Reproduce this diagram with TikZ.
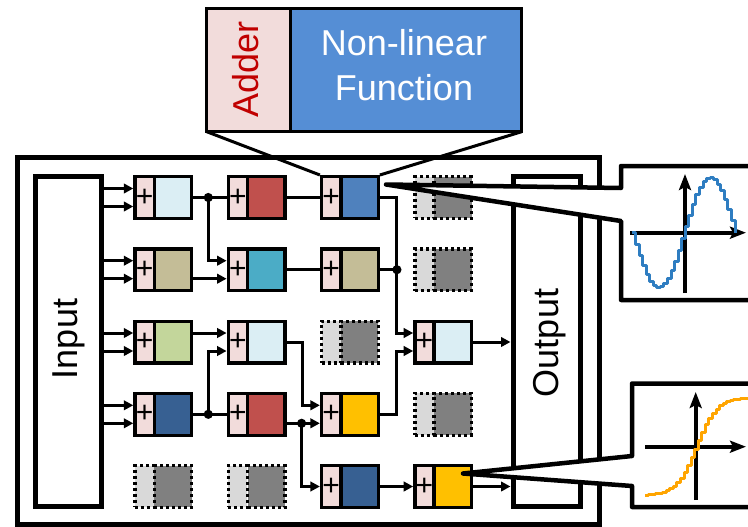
\documentclass[tikz,border=0pt]{standalone}
\usepackage{fontspec}
\setmainfont{Liberation Sans}
\usetikzlibrary{arrows.meta,calc}
\definecolor{addpink}{HTML}{F2DCDB}
\definecolor{ltblue}{HTML}{DBEEF4}
\definecolor{cred}{HTML}{C0504D}
\definecolor{cblue}{HTML}{4F81BD}
\definecolor{ctan}{HTML}{C4BD97}
\definecolor{cteal}{HTML}{4BACC6}
\definecolor{cgreen}{HTML}{C3D69B}
\definecolor{cdblue}{HTML}{376092}
\definecolor{cyellow}{HTML}{FFC000}
\definecolor{idlelight}{HTML}{D9D9D9}
\definecolor{idledark}{HTML}{808080}
\definecolor{topblue}{HTML}{558ED5}
\definecolor{addred}{HTML}{C00000}
\definecolor{sineblue}{HTML}{2E7DC1}
\definecolor{sigorange}{HTML}{FFA500}
\newcommand\mkcell[4]{%
  \node[addbox] (a#1) at (#2-18.75,#3) {+};
  \node[funbox, fill=#4] (f#1) at (#2+9.75,#3) {};}
\newcommand\mkidle[3]{%
  \node[addbox, dash pattern=on 3pt off 3pt, fill=idlelight] (a#1) at (#2-18.75,#3) {};
  \node[funbox, dash pattern=on 3pt off 3pt, fill=idledark] (f#1) at (#2+9.75,#3) {};}
\begin{document}
\begin{tikzpicture}[x=1pt,y=-1pt,
  conn/.style={line width=3pt},
  arr/.style={conn, -{Triangle[length=9.5pt,width=9.5pt]}},
  axisarr/.style={line width=4pt, -{Stealth[length=16pt,width=12pt,inset=3pt]}},
  addbox/.style={draw, line width=3.3pt, fill=addpink, minimum width=19.2pt, minimum height=41.7pt, inner sep=0pt, font=\fontsize{30}{30}\selectfont},
  funbox/.style={draw, line width=3.3pt, minimum width=37.2pt, minimum height=41.7pt, inner sep=0pt},
  bigbox/.style={draw, line width=5pt, inner sep=0pt},
  bigtext/.style={font=\fontsize{36}{36}\selectfont, rotate=90, anchor=base},
  bubble/.style={draw, line width=4.5pt, fill=white, line join=round},
  dot/.style={fill=black}]
\useasboundingbox (0,0) rectangle (748,527);
\clip (0,0) rectangle (748,527);
% frame and I/O
\node[bigbox, minimum width=582pt, minimum height=367pt] (frame) at (308.5,341) {};
\node[bigbox, minimum width=66pt, minimum height=329.5pt] (in) at (68.5,341.25) {};
\node[bigbox, minimum width=67pt, minimum height=330pt] (out) at (546.5,341) {};
\node[bigtext] (intext) at (77.7,339) {Input};
\node[bigtext] (outtext) at (558,343) {Output};
% cells
\mkcell{11}{163.3}{197.5}{ltblue}
\mkcell{12}{256.6}{197.5}{cred}
\mkcell{13}{349.9}{197.5}{cblue}
\mkidle{14}{443.2}{197.5}
\mkcell{21}{163.3}{269.7}{ctan}
\mkcell{22}{256.6}{269.7}{cteal}
\mkcell{23}{349.9}{269.7}{ctan}
\mkidle{24}{443.2}{269.7}
\mkcell{31}{163.3}{342}{cgreen}
\mkcell{32}{256.6}{342}{ltblue}
\mkidle{33}{349.9}{342}
\mkcell{34}{443.2}{342}{ltblue}
\mkcell{41}{163.3}{414.3}{cdblue}
\mkcell{42}{256.6}{414.3}{cred}
\mkcell{43}{349.9}{414.3}{cyellow}
\mkidle{44}{443.2}{414.3}
\mkidle{51}{163.3}{486.5}
\mkidle{52}{256.6}{486.5}
\mkcell{53}{349.9}{486.5}{cdblue}
\mkcell{54}{443.2}{486.5}{cyellow}
% input arrows
\foreach \r in {11,21,31,41}{
  \draw[arr] ($(in.east |- a\r.west)+(0,-9)$) -- ($(a\r.west)+(0,-9)$);
  \draw[arr] ($(in.east |- a\r.west)+(0,9)$) -- ($(a\r.west)+(0,9)$);
}
% connectors
\coordinate (d1) at ($(f11.east)!0.45!(a12.west)$);
\draw[conn] (f11.east) -- (a12.west);
\draw[arr] (d1) |- ($(a22.west)+(0,-9)$);
\fill[dot] (d1) circle (4.6);
\draw[arr] ($(f21.east)+(0,9)$) -- ($(a22.west)+(0,9)$);
\draw[conn] (f12.east) -- (a13.west);
\draw[conn] (f22.east) -- (a23.west);
\coordinate (v1) at ($(f13.east)+(17,0)$);
\draw[arr] (f13.east) -- (v1) |- ($(a34.west)+(0,-9)$);
\coordinate (d2) at (v1 |- f23.east);
\draw[conn] (f23.east) -- (d2);
\fill[dot] (d2) circle (4.6);
\draw[arr] ($(f31.east)+(0,-9)$) -- ($(a32.west)+(0,-9)$);
\coordinate (d3) at ($(f41.east)!0.45!(a42.west)$);
\draw[conn] (f41.east) -- (a42.west);
\draw[arr] (d3) |- ($(a32.west)+(0,9)$);
\fill[dot] (d3) circle (4.6);
\coordinate (v2) at ($(f32.east)+(16,0)$);
\draw[arr] (f32.east) -- (v2) |- ($(a43.west)+(0,-9)$);
\coordinate (d4) at ($(f42.east)+(15,9)$);
\draw[arr] ($(f42.east)+(0,9)$) -- ($(a43.west)+(0,9)$);
\draw[arr] (d4) |- (a53.west);
\fill[dot] (d4) circle (4.6);
\coordinate (v3) at ($(f43.east)+(17,0)$);
\draw[arr] (f43.east) -- (v3) |- ($(a34.west)+(0,9)$);
\draw[arr] (f34.east) -- (f34.east -| out.west);
\draw[arr] (f53.east) -- (a54.west);
\draw[arr] (f54.east) -- (f54.east -| out.west);
% top callout
\node[draw, line width=3pt, fill=addpink, minimum width=83.3pt, minimum height=123.4pt, inner sep=0pt, outer sep=0pt] (tadd) at (248.35,70) {};
\node[draw, line width=3pt, fill=topblue, minimum width=231.7pt, minimum height=123.4pt, inner sep=0pt, outer sep=0pt] (tfun) at (405.85,70) {};
\node[font=\fontsize{36}{36}\selectfont, text=addred, rotate=90, anchor=base] (tadder) at (258,69.5) {Adder};
\node[font=\fontsize{36}{45}\selectfont, text=white, align=center] (tnl) at (404,65) {Non-linear\\Function};
\draw[line width=3pt] (tadd.south west) -- (a13.north west);
\draw[line width=3pt] (tfun.south east) -- (f13.north east);
% sine bubble
\coordinate (s1) at (386,184.5);
\draw[bubble] (760,166) -- (621,166) -- (621,188) -- (s1) -- (621,221) -- (621,300) -- (760,300);
\coordinate (sx0) at (630,232.7);
\coordinate (sx1) at (746,232.7);
\coordinate (sy0) at (685,293);
\coordinate (sy1) at (685,174);
\draw[axisarr] (sx0) -- (sx1);
\draw[axisarr] (sy0) -- (sy1);
\draw[sineblue, line width=3pt, line join=round] plot[const plot, domain=632:735, samples=30] (\x, {232.7+55*sin(3.49515*(\x-632))});
% sigmoid bubble
\coordinate (s2) at (463,473.5);
\draw[bubble] (760,383.5) -- (632,383.5) -- (632,456) -- (s2) -- (632,486) -- (632,507) -- (760,507);
\coordinate (gx0) at (645,446.7);
\coordinate (gx1) at (746,446.7);
\coordinate (gy0) at (695.7,500);
\coordinate (gy1) at (695.7,392);
\draw[axisarr] (gx0) -- (gx1);
\draw[axisarr] (gy0) -- (gy1);
\draw[sigorange, line width=3pt, line join=round] plot[const plot, domain=645:748, samples=30] (\x, {446.7-49*tanh((\x-695.7)/20)});
\end{tikzpicture}
\end{document}
